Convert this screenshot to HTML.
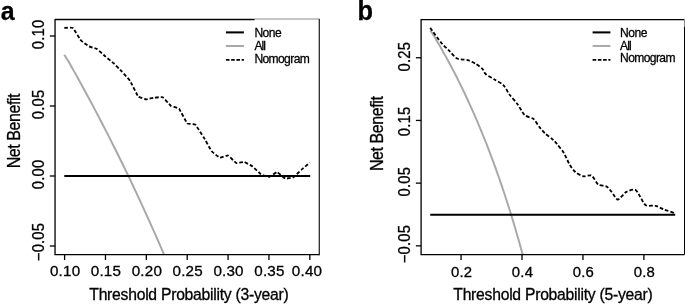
<!DOCTYPE html><html><head><meta charset="utf-8"><title>Decision curves</title>
<style>html,body{margin:0;padding:0;background:#fff}svg{display:block;will-change:transform;filter:grayscale(1)}text{font-family:"Liberation Sans",sans-serif;fill:#000;stroke:#000}</style></head><body>
<svg width="685" height="305" viewBox="0 0 685 305">
<rect width="685" height="305" fill="#fff"/>
<text transform="translate(0.70 20.30) scale(0.940 1)" font-size="26.5" font-weight="bold" stroke-width="0.3">a</text>
<text transform="translate(357.40 20.30) scale(0.940 1)" font-size="27.0" font-weight="bold" stroke-width="0.3">b</text>
<path d="M64.30 54.67 C65.03 55.86 67.27 59.42 68.69 61.81 C70.10 64.20 71.41 66.61 72.77 69.03 C74.14 71.46 75.50 73.89 76.86 76.34 C78.22 78.79 79.59 81.25 80.95 83.73 C82.31 86.20 83.67 88.69 85.04 91.20 C86.40 93.71 87.76 96.22 89.12 98.76 C90.48 101.29 91.85 103.84 93.21 106.40 C94.57 108.97 95.93 111.55 97.30 114.14 C98.66 116.73 100.02 119.34 101.38 121.96 C102.75 124.59 104.11 127.23 105.47 129.88 C106.83 132.54 108.19 135.21 109.56 137.89 C110.92 140.58 112.28 143.28 113.64 146.00 C115.01 148.72 116.37 151.45 117.73 154.20 C119.09 156.95 120.46 159.72 121.82 162.51 C123.18 165.29 124.54 168.09 125.91 170.91 C127.27 173.73 128.63 176.56 129.99 179.41 C131.35 182.27 132.72 185.14 134.08 188.02 C135.44 190.91 136.80 193.82 138.17 196.74 C139.53 199.66 140.89 202.61 142.25 205.57 C143.62 208.53 144.98 211.50 146.34 214.50 C147.70 217.50 149.06 220.51 150.43 223.55 C151.79 226.58 153.15 229.64 154.51 232.71 C155.88 235.78 157.24 238.87 158.60 241.99 C159.96 245.10 161.77 249.27 162.69 251.38 C163.61 253.50 163.87 254.15 164.11 254.70" fill="none" stroke="#a8a8a8" stroke-width="1.95" stroke-linecap="butt"/>
<path d="M64.30 175.90 H310.20" stroke="#000" stroke-width="2.05" fill="none"/>
<path d="M64.30 27.90 C64.64 27.90 72.13 27.40 72.80 27.90 C73.47 28.40 80.35 39.76 81.00 40.50 C81.65 41.24 88.45 46.05 89.10 46.40 C89.75 46.75 96.64 48.79 97.30 49.20 C97.96 49.61 104.85 56.04 105.50 56.60 C106.15 57.16 112.95 62.60 113.60 63.20 C114.25 63.80 121.14 70.80 121.80 71.50 C122.46 72.20 129.34 79.80 130.00 80.80 C130.66 81.80 137.55 95.86 138.20 96.60 C138.85 97.34 145.65 99.26 146.30 99.30 C146.95 99.34 153.84 97.68 154.50 97.60 C155.16 97.52 162.04 96.87 162.70 97.20 C163.36 97.53 170.25 105.44 170.90 105.90 C171.55 106.36 178.35 107.90 179.00 108.60 C179.65 109.30 186.54 122.66 187.20 123.30 C187.86 123.94 194.75 124.15 195.40 124.70 C196.05 125.25 202.85 135.94 203.50 137.00 C204.15 138.06 211.04 150.47 211.70 151.30 C212.36 152.13 219.24 157.53 219.90 157.70 C220.56 157.87 227.45 155.29 228.10 155.50 C228.75 155.71 235.55 162.74 236.20 163.00 C236.85 163.26 243.74 161.86 244.40 162.00 C245.06 162.14 251.94 166.02 252.60 166.50 C253.26 166.98 260.15 173.68 260.80 174.10 C261.45 174.52 268.25 177.08 268.90 177.00 C269.55 176.92 276.44 172.04 277.10 172.10 C277.76 172.16 284.65 178.39 285.30 178.60 C285.95 178.81 292.75 177.66 293.40 177.30 C294.05 176.94 300.94 170.19 301.60 169.60 C302.26 169.01 309.57 162.88 309.90 162.60" fill="none" stroke="#000" stroke-width="1.80" stroke-dasharray="3.6 2.0" stroke-linejoin="round"/>
<path d="M55.05 18.90 H319.80" fill="none" stroke="#b2b2b2" stroke-width="1.50"/>
<path d="M319.30 18.90 V255.35" fill="none" stroke="#2a2a2a" stroke-width="1.30"/>
<path d="M254.50 19.55 V19.55 H55.05 V254.70" fill="none" stroke="#000" stroke-width="1.30"/>
<path d="M54.40 254.70 H319.20" fill="none" stroke="#000" stroke-width="1.30"/>
<path d="M64.60 254.70 V260.10" stroke="#000" stroke-width="1.30"/>
<text transform="translate(65.10 275.90)" font-size="15.20" text-anchor="middle" letter-spacing="0.20" stroke-width="0.30">0.10</text>
<path d="M105.47 254.70 V260.10" stroke="#000" stroke-width="1.30"/>
<text transform="translate(105.97 275.90)" font-size="15.20" text-anchor="middle" letter-spacing="0.20" stroke-width="0.30">0.15</text>
<path d="M146.34 254.70 V260.10" stroke="#000" stroke-width="1.30"/>
<text transform="translate(146.84 275.90)" font-size="15.20" text-anchor="middle" letter-spacing="0.20" stroke-width="0.30">0.20</text>
<path d="M187.21 254.70 V260.10" stroke="#000" stroke-width="1.30"/>
<text transform="translate(187.71 275.90)" font-size="15.20" text-anchor="middle" letter-spacing="0.20" stroke-width="0.30">0.25</text>
<path d="M228.08 254.70 V260.10" stroke="#000" stroke-width="1.30"/>
<text transform="translate(228.58 275.90)" font-size="15.20" text-anchor="middle" letter-spacing="0.20" stroke-width="0.30">0.30</text>
<path d="M268.95 254.70 V260.10" stroke="#000" stroke-width="1.30"/>
<text transform="translate(269.45 275.90)" font-size="15.20" text-anchor="middle" letter-spacing="0.20" stroke-width="0.30">0.35</text>
<path d="M309.82 254.70 V260.10" stroke="#000" stroke-width="1.30"/>
<text transform="translate(307.02 275.90)" font-size="15.20" text-anchor="middle" letter-spacing="0.20" stroke-width="0.30">0.40</text>
<path d="M55.05 36.00 H49.85" stroke="#000" stroke-width="1.30"/>
<text transform="translate(44.00 34.40) rotate(-90) scale(0.9500 1)" font-size="15.60" text-anchor="middle" letter-spacing="0.20" stroke-width="0.30">0.10</text>
<path d="M55.05 106.00 H49.85" stroke="#000" stroke-width="1.30"/>
<text transform="translate(44.00 104.40) rotate(-90) scale(0.9500 1)" font-size="15.60" text-anchor="middle" letter-spacing="0.20" stroke-width="0.30">0.05</text>
<path d="M55.05 176.00 H49.85" stroke="#000" stroke-width="1.30"/>
<text transform="translate(44.00 174.40) rotate(-90) scale(0.9500 1)" font-size="15.60" text-anchor="middle" letter-spacing="0.20" stroke-width="0.30">0.00</text>
<path d="M55.05 246.00 H49.85" stroke="#000" stroke-width="1.30"/>
<text transform="translate(44.00 242.00) rotate(-90) scale(0.9500 1)" font-size="15.60" text-anchor="middle" letter-spacing="0.20" stroke-width="0.30">−0.05</text>
<text transform="translate(189.00 300.40) scale(0.9250 1)" font-size="17.00" text-anchor="middle" stroke-width="0.32" textLength="215.57" lengthAdjust="spacing">Threshold Probability (3-year)</text>
<text transform="translate(20.30 130.90) rotate(-90) scale(0.9000 1)" font-size="17.80" text-anchor="middle" stroke-width="0.32" textLength="83.22" lengthAdjust="spacing">Net Benefit</text>
<path d="M225.90 32.40 H243.90" stroke="#000" stroke-width="2.05"/>
<path d="M225.90 46.00 H243.90" stroke="#a8a8a8" stroke-width="1.95"/>
<path d="M225.90 59.85 H243.90" stroke="#000" stroke-width="1.80" stroke-dasharray="3.6 1.65"/>
<text transform="translate(254.40 37.00) scale(0.9300 1)" font-size="13.00" text-anchor="start" stroke-width="0.30" textLength="29.35" lengthAdjust="spacing">None</text>
<text transform="translate(254.40 49.85) scale(0.9300 1)" font-size="13.00" text-anchor="start" stroke-width="0.30" textLength="12.47" lengthAdjust="spacing">All</text>
<text transform="translate(254.40 62.65) scale(0.9300 1)" font-size="13.00" text-anchor="start" stroke-width="0.30" textLength="59.57" lengthAdjust="spacing">Nomogram</text>
<path d="M430.20 30.58 C430.52 30.99 431.55 32.23 432.12 33.06 C432.70 33.89 433.14 34.72 433.65 35.56 C434.15 36.40 434.66 37.24 435.17 38.09 C435.68 38.94 436.19 39.79 436.69 40.65 C437.20 41.51 437.71 42.37 438.22 43.24 C438.73 44.11 439.23 44.98 439.74 45.86 C440.25 46.74 440.76 47.62 441.26 48.51 C441.77 49.40 442.28 50.29 442.79 51.19 C443.30 52.09 443.80 52.99 444.31 53.90 C444.82 54.81 445.33 55.72 445.84 56.64 C446.34 57.56 446.85 58.49 447.36 59.42 C447.87 60.35 448.37 61.29 448.88 62.23 C449.39 63.17 449.90 64.12 450.41 65.07 C450.91 66.02 451.42 66.98 451.93 67.95 C452.44 68.91 452.94 69.88 453.45 70.86 C453.96 71.84 454.47 72.82 454.98 73.81 C455.48 74.80 455.99 75.79 456.50 76.79 C457.01 77.79 457.52 78.80 458.02 79.81 C458.53 80.82 459.04 81.84 459.55 82.87 C460.05 83.89 460.56 84.93 461.07 85.97 C461.58 87.00 462.09 88.05 462.59 89.10 C463.10 90.15 463.61 91.21 464.12 92.27 C464.62 93.34 465.13 94.41 465.64 95.49 C466.15 96.57 466.66 97.65 467.16 98.75 C467.67 99.84 468.18 100.94 468.69 102.04 C469.20 103.15 469.70 104.26 470.21 105.39 C470.72 106.51 471.23 107.63 471.73 108.77 C472.24 109.91 472.75 111.05 473.26 112.20 C473.77 113.35 474.27 114.51 474.78 115.67 C475.29 116.84 475.80 118.01 476.31 119.20 C476.81 120.38 477.32 121.57 477.83 122.76 C478.34 123.96 478.84 125.17 479.35 126.38 C479.86 127.59 480.37 128.82 480.88 130.05 C481.38 131.28 481.89 132.52 482.40 133.76 C482.91 135.01 483.41 136.27 483.92 137.53 C484.43 138.79 484.94 140.07 485.45 141.35 C485.95 142.63 486.46 143.92 486.97 145.22 C487.48 146.52 487.99 147.83 488.49 149.15 C489.00 150.47 489.51 151.80 490.02 153.13 C490.52 154.47 491.03 155.82 491.54 157.17 C492.05 158.53 492.56 159.90 493.06 161.27 C493.57 162.65 494.08 164.03 494.59 165.43 C495.09 166.83 495.60 168.23 496.11 169.65 C496.62 171.07 497.13 172.49 497.63 173.93 C498.14 175.37 498.65 176.81 499.16 178.27 C499.67 179.73 500.17 181.20 500.68 182.68 C501.19 184.16 501.70 185.65 502.20 187.16 C502.71 188.66 503.22 190.17 503.73 191.70 C504.24 193.23 504.74 194.76 505.25 196.31 C505.76 197.86 506.27 199.42 506.78 201.00 C507.28 202.57 507.79 204.15 508.30 205.75 C508.81 207.35 509.31 208.96 509.82 210.58 C510.33 212.20 510.84 213.84 511.35 215.49 C511.85 217.14 512.36 218.80 512.87 220.47 C513.38 222.15 513.88 223.83 514.39 225.54 C514.90 227.24 515.41 228.95 515.92 230.68 C516.42 232.41 516.93 234.15 517.44 235.91 C517.95 237.67 518.46 239.44 518.96 241.22 C519.47 243.01 519.98 244.81 520.49 246.63 C520.99 248.44 521.64 250.77 522.01 252.12 C522.38 253.47 522.60 254.27 522.71 254.70" fill="none" stroke="#a8a8a8" stroke-width="1.95" stroke-linecap="butt"/>
<path d="M430.20 214.70 H675.20" stroke="#000" stroke-width="2.05" fill="none"/>
<path d="M430.20 27.90 C431.69 29.91 438.81 39.91 441.40 43.00 C443.99 46.09 447.52 49.03 449.60 51.10 C451.68 53.17 454.60 57.29 457.00 58.50 C459.40 59.71 465.09 59.48 467.60 60.20 C470.11 60.92 473.83 62.74 475.80 63.90 C477.77 65.06 481.09 67.55 482.40 68.90 C483.71 70.25 483.97 72.57 485.60 74.00 C487.23 75.43 492.20 78.09 494.60 79.60 C497.00 81.11 501.64 83.34 503.60 85.30 C505.56 87.26 507.46 91.81 509.30 94.30 C511.14 96.79 515.35 101.24 517.40 104.00 C519.45 106.76 522.53 112.99 524.70 115.00 C526.87 117.01 531.74 117.50 533.70 119.10 C535.66 120.70 537.87 125.08 539.40 127.00 C540.93 128.92 543.45 131.86 545.20 133.50 C546.95 135.14 550.93 137.90 552.50 139.30 C554.07 140.70 555.48 142.17 557.00 144.00 C558.52 145.83 562.22 150.27 563.90 153.00 C565.58 155.73 568.08 161.97 569.60 164.50 C571.12 167.03 573.45 170.43 575.30 172.00 C577.15 173.57 581.33 175.82 583.50 176.30 C585.67 176.78 589.63 174.51 591.60 175.60 C593.57 176.69 596.34 183.06 598.30 184.50 C600.26 185.94 604.58 185.49 606.30 186.40 C608.02 187.31 609.67 189.55 611.20 191.30 C612.73 193.05 615.83 199.39 617.80 199.50 C619.77 199.61 623.71 193.41 626.00 192.10 C628.29 190.79 633.15 189.15 635.00 189.70 C636.85 190.25 638.47 194.13 639.90 196.20 C641.33 198.27 643.62 203.92 645.70 205.20 C647.78 206.48 653.10 205.24 655.50 205.80 C657.90 206.36 661.17 208.44 663.70 209.40 C666.23 210.36 673.06 212.52 674.50 213.00" fill="none" stroke="#000" stroke-width="1.80" stroke-dasharray="3.6 2.0" stroke-linejoin="round"/>
<path d="M684.50 19.60 H421.10 V254.70 H684.50" fill="none" stroke="#000" stroke-width="1.30"/>
<path d="M684.50 19.60 V27.00" fill="none" stroke="#8c8c8c" stroke-width="1.00"/>
<path d="M684.50 27.00 V254.70" fill="none" stroke="#000" stroke-width="1.00"/>
<path d="M461.07 254.70 V260.10" stroke="#000" stroke-width="1.30"/>
<text transform="translate(461.57 276.50)" font-size="14.90" text-anchor="middle" letter-spacing="0.20" stroke-width="0.30">0.2</text>
<path d="M522.01 254.70 V260.10" stroke="#000" stroke-width="1.30"/>
<text transform="translate(522.51 276.50)" font-size="14.90" text-anchor="middle" letter-spacing="0.20" stroke-width="0.30">0.4</text>
<path d="M582.95 254.70 V260.10" stroke="#000" stroke-width="1.30"/>
<text transform="translate(583.45 276.50)" font-size="14.90" text-anchor="middle" letter-spacing="0.20" stroke-width="0.30">0.6</text>
<path d="M643.89 254.70 V260.10" stroke="#000" stroke-width="1.30"/>
<text transform="translate(644.39 276.50)" font-size="14.90" text-anchor="middle" letter-spacing="0.20" stroke-width="0.30">0.8</text>
<path d="M421.10 57.75 H415.90" stroke="#000" stroke-width="1.30"/>
<text transform="translate(410.00 56.65) rotate(-90) scale(0.9500 1)" font-size="15.60" text-anchor="middle" letter-spacing="0.20" stroke-width="0.30">0.25</text>
<path d="M421.10 120.45 H415.90" stroke="#000" stroke-width="1.30"/>
<text transform="translate(410.00 121.45) rotate(-90) scale(0.9500 1)" font-size="15.60" text-anchor="middle" letter-spacing="0.20" stroke-width="0.30">0.15</text>
<path d="M421.10 183.15 H415.90" stroke="#000" stroke-width="1.30"/>
<text transform="translate(410.00 181.65) rotate(-90) scale(0.9500 1)" font-size="15.60" text-anchor="middle" letter-spacing="0.20" stroke-width="0.30">0.05</text>
<path d="M421.10 245.85 H415.90" stroke="#000" stroke-width="1.30"/>
<text transform="translate(410.00 244.15) rotate(-90) scale(0.9500 1)" font-size="15.60" text-anchor="middle" letter-spacing="0.20" stroke-width="0.30">−0.05</text>
<text transform="translate(553.00 300.40) scale(0.9250 1)" font-size="17.00" text-anchor="middle" stroke-width="0.32" textLength="215.57" lengthAdjust="spacing">Threshold Probability (5-year)</text>
<text transform="translate(383.20 133.60) rotate(-90) scale(0.9000 1)" font-size="17.80" text-anchor="middle" stroke-width="0.32" textLength="83.22" lengthAdjust="spacing">Net Benefit</text>
<path d="M592.60 32.40 H610.40" stroke="#000" stroke-width="2.05"/>
<path d="M592.60 45.95 H610.40" stroke="#a8a8a8" stroke-width="1.95"/>
<path d="M592.60 59.85 H610.40" stroke="#000" stroke-width="1.80" stroke-dasharray="3.6 1.65"/>
<text transform="translate(620.10 36.75) scale(0.9300 1)" font-size="13.00" text-anchor="start" stroke-width="0.30" textLength="29.35" lengthAdjust="spacing">None</text>
<text transform="translate(620.10 49.55) scale(0.9300 1)" font-size="13.00" text-anchor="start" stroke-width="0.30" textLength="12.47" lengthAdjust="spacing">All</text>
<text transform="translate(620.10 62.45) scale(0.9300 1)" font-size="13.00" text-anchor="start" stroke-width="0.30" textLength="59.57" lengthAdjust="spacing">Nomogram</text>
</svg></body></html>
